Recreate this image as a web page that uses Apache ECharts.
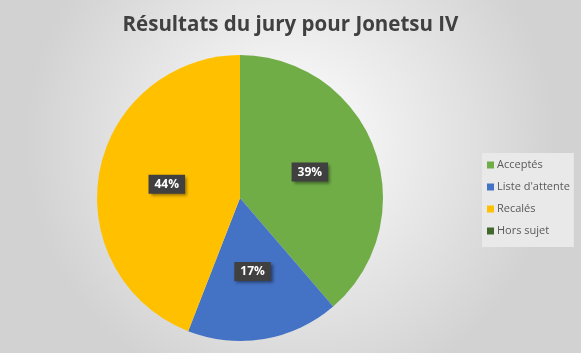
<!DOCTYPE html>
<html>
<head>
<meta charset="utf-8">
<script src="https://cdn.jsdelivr.net/npm/echarts@6/dist/echarts.min.js"></script>
<style>html,body{margin:0;padding:0;}#c{width:581px;height:353px;}</style>
</head>
<body>
<div id="c"></div>
<script>
const categories = ['Acceptés', "Liste d'attente", 'Recalés', 'Hors sujet'];
const values = [38.7, 17.2, 44.1, 0];
const colors = ['#70ad47', '#4472c4', '#ffc000', '#43682b'];
const titleText = 'Résultats du jury pour Jonetsu IV';

const chart = echarts.init(document.getElementById('c'));
const data = categories.map((name, i) => ({
  name: name,
  value: values[i],
  itemStyle: { color: colors[i] },
  label: { show: values[i] > 0 }
}));
chart.setOption({
  backgroundColor: {
    type: 'radial', x: 0.5, y: 0.4, r: 0.75,
    colorStops: [{ offset: 0, color: '#ffffff' }, { offset: 1, color: '#d2d2d2' }]
  },
  title: {
    text: titleText, left: 'center', top: 10,
    textStyle: { fontFamily: 'Open Sans', fontWeight: 'bold', fontSize: 20.5, color: '#404040' }
  },
  legend: {
    orient: 'vertical', left: 482, top: 153,
    data: categories,
    icon: 'rect', itemWidth: 7, itemHeight: 7, itemGap: 10,
    backgroundColor: '#e9e9e9',
    padding: [6, 4, 10, 5],
    textStyle: { fontFamily: 'Open Sans', fontSize: 11, color: '#595959', lineHeight: 12, padding: [0, 0, 0, -2] },
    selectedMode: false
  },
  series: [{
    type: 'pie',
    center: [240, 198],
    radius: 143,
    startAngle: 90,
    animation: false,
    silent: true,
    itemStyle: { borderWidth: 0 },
    label: {
      position: 'inside',
      formatter: p => Math.round(p.percent) + '%',
      backgroundColor: '#404040',
      color: '#ffffff',
      fontFamily: 'Open Sans',
      fontWeight: 'bold',
      fontSize: 12,
      padding: [4, 6, 3, 6],
      shadowBlur: 3, shadowOffsetX: 2, shadowOffsetY: 2, shadowColor: 'rgba(0,0,0,0.45)'
    },
    labelLine: { show: false },
    data: data
  }]
});
</script>
</body>
</html>
